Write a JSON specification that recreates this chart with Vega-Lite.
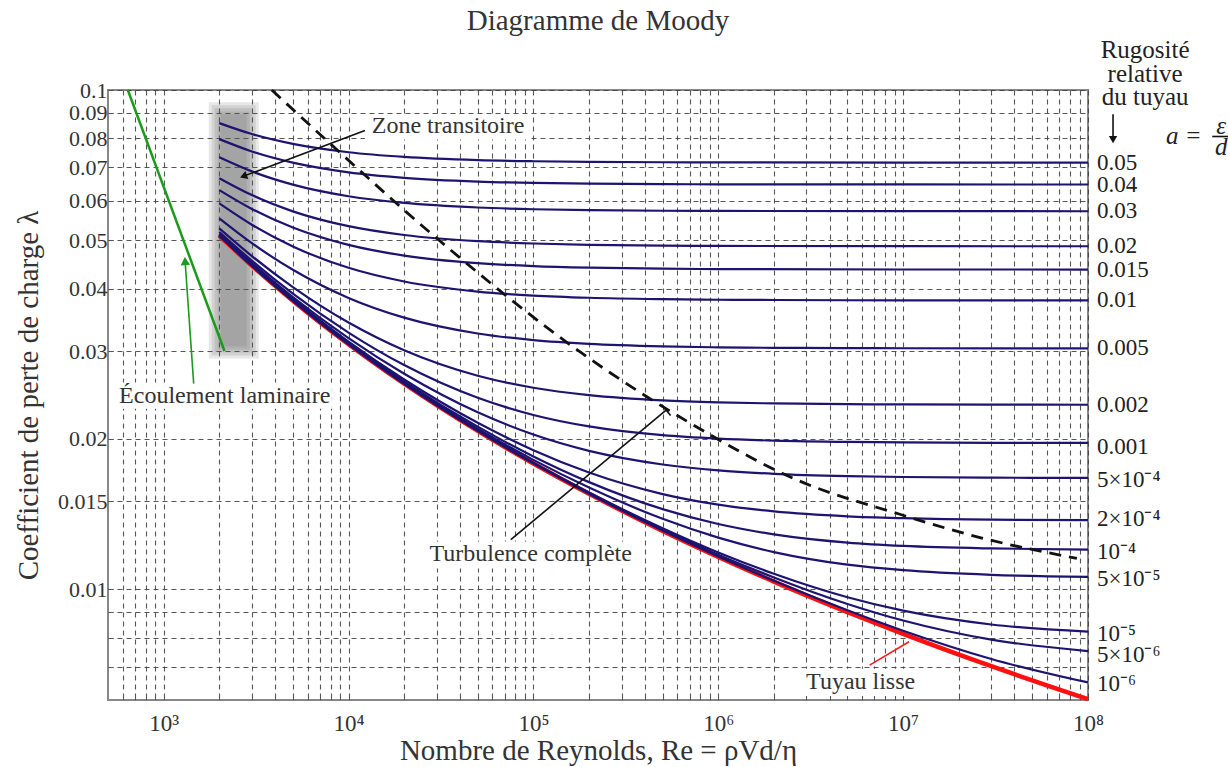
{
  "$schema": "https://vega.github.io/schema/vega-lite/v6.json",
  "autosize": "none",
  "width": 980,
  "height": 610,
  "padding": {"left": 108, "top": 90, "right": 140, "bottom": 67},
  "background": "white",
  "title": {"text": "Diagramme de Moody", "fontSize": 29, "font": "Liberation Serif", "fontWeight": "normal", "color": "#333", "offset": 2, "anchor": "middle"},
  "config": {
    "font": "Liberation Serif",
    "view": {"stroke": "#888", "strokeWidth": 2},
    "axis": {"labelFont": "Liberation Serif", "titleFont": "Liberation Serif", "labelColor": "#333", "titleColor": "#333", "titleFontWeight": "normal", "domain": false, "gridColor": "#444", "gridDash": [5, 4], "gridOpacity": 0.9, "gridWidth": 1.1, "tickColor": "#555"}
  },
  "datasets": {
    "curves": [
      {"a": "0.05", "Re": 2000, "f": 0.08584}, {"a": "0.05", "Re": 3000, "f": 0.08161}, {"a": "0.05", "Re": 5000, "f": 0.07799}, {"a": "0.05", "Re": 10000, "f": 0.07505}, {"a": "0.05", "Re": 20000, "f": 0.07344}, {"a": "0.05", "Re": 50000, "f": 0.07238}, {"a": "0.05", "Re": 100000, "f": 0.072}, {"a": "0.05", "Re": 200000, "f": 0.07179}, {"a": "0.05", "Re": 500000, "f": 0.07166}, {"a": "0.05", "Re": 1000000, "f": 0.07161}, {"a": "0.05", "Re": 10000000, "f": 0.07156}, {"a": "0.05", "Re": 100000000, "f": 0.07155},
      {"a": "0.04", "Re": 2000, "f": 0.07972}, {"a": "0.04", "Re": 3000, "f": 0.07532}, {"a": "0.04", "Re": 5000, "f": 0.07152}, {"a": "0.04", "Re": 10000, "f": 0.0684}, {"a": "0.04", "Re": 20000, "f": 0.06669}, {"a": "0.04", "Re": 50000, "f": 0.06556}, {"a": "0.04", "Re": 100000, "f": 0.06515}, {"a": "0.04", "Re": 200000, "f": 0.06493}, {"a": "0.04", "Re": 500000, "f": 0.06478}, {"a": "0.04", "Re": 1000000, "f": 0.06473}, {"a": "0.04", "Re": 10000000, "f": 0.06468}, {"a": "0.04", "Re": 100000000, "f": 0.06467},
      {"a": "0.03", "Re": 2000, "f": 0.07334}, {"a": "0.03", "Re": 3000, "f": 0.0687}, {"a": "0.03", "Re": 5000, "f": 0.06464}, {"a": "0.03", "Re": 10000, "f": 0.06127}, {"a": "0.03", "Re": 20000, "f": 0.0594}, {"a": "0.03", "Re": 50000, "f": 0.05816}, {"a": "0.03", "Re": 100000, "f": 0.0577}, {"a": "0.03", "Re": 200000, "f": 0.05746}, {"a": "0.03", "Re": 500000, "f": 0.0573}, {"a": "0.03", "Re": 1000000, "f": 0.05724}, {"a": "0.03", "Re": 10000000, "f": 0.05718}, {"a": "0.03", "Re": 100000000, "f": 0.05717},
      {"a": "0.02", "Re": 2000, "f": 0.06658}, {"a": "0.02", "Re": 3000, "f": 0.06159}, {"a": "0.02", "Re": 5000, "f": 0.05714}, {"a": "0.02", "Re": 10000, "f": 0.05336}, {"a": "0.02", "Re": 20000, "f": 0.05123}, {"a": "0.02", "Re": 50000, "f": 0.04979}, {"a": "0.02", "Re": 100000, "f": 0.04926}, {"a": "0.02", "Re": 200000, "f": 0.04897}, {"a": "0.02", "Re": 500000, "f": 0.04878}, {"a": "0.02", "Re": 1000000, "f": 0.04872}, {"a": "0.02", "Re": 10000000, "f": 0.04865}, {"a": "0.02", "Re": 100000000, "f": 0.04864},
      {"a": "0.015", "Re": 2000, "f": 0.06302}, {"a": "0.015", "Re": 3000, "f": 0.05778}, {"a": "0.015", "Re": 5000, "f": 0.05304}, {"a": "0.015", "Re": 10000, "f": 0.04895}, {"a": "0.015", "Re": 20000, "f": 0.04659}, {"a": "0.015", "Re": 50000, "f": 0.04499}, {"a": "0.015", "Re": 100000, "f": 0.04439}, {"a": "0.015", "Re": 200000, "f": 0.04407}, {"a": "0.015", "Re": 500000, "f": 0.04386}, {"a": "0.015", "Re": 1000000, "f": 0.04378}, {"a": "0.015", "Re": 10000000, "f": 0.0437}, {"a": "0.015", "Re": 100000000, "f": 0.04369},
      {"a": "0.01", "Re": 2000, "f": 0.05928}, {"a": "0.01", "Re": 3000, "f": 0.05373}, {"a": "0.01", "Re": 5000, "f": 0.0486}, {"a": "0.01", "Re": 10000, "f": 0.04404}, {"a": "0.01", "Re": 20000, "f": 0.04135}, {"a": "0.01", "Re": 50000, "f": 0.03946}, {"a": "0.01", "Re": 100000, "f": 0.03875}, {"a": "0.01", "Re": 200000, "f": 0.03836}, {"a": "0.01", "Re": 500000, "f": 0.03811}, {"a": "0.01", "Re": 1000000, "f": 0.03801}, {"a": "0.01", "Re": 2000000, "f": 0.03796}, {"a": "0.01", "Re": 10000000, "f": 0.03791}, {"a": "0.01", "Re": 100000000, "f": 0.0379},
      {"a": "0.005", "Re": 2000, "f": 0.05533}, {"a": "0.005", "Re": 3000, "f": 0.04935}, {"a": "0.005", "Re": 5000, "f": 0.04364}, {"a": "0.005", "Re": 10000, "f": 0.03833}, {"a": "0.005", "Re": 20000, "f": 0.035}, {"a": "0.005", "Re": 50000, "f": 0.03253}, {"a": "0.005", "Re": 100000, "f": 0.03156}, {"a": "0.005", "Re": 200000, "f": 0.03102}, {"a": "0.005", "Re": 500000, "f": 0.03066}, {"a": "0.005", "Re": 1000000, "f": 0.03052}, {"a": "0.005", "Re": 2000000, "f": 0.03045}, {"a": "0.005", "Re": 5000000, "f": 0.0304}, {"a": "0.005", "Re": 10000000, "f": 0.03039}, {"a": "0.005", "Re": 100000000, "f": 0.03037},
      {"a": "0.002", "Re": 2000, "f": 0.05283}, {"a": "0.002", "Re": 3000, "f": 0.0465}, {"a": "0.002", "Re": 5000, "f": 0.0403}, {"a": "0.002", "Re": 10000, "f": 0.03422}, {"a": "0.002", "Re": 20000, "f": 0.03011}, {"a": "0.002", "Re": 50000, "f": 0.02677}, {"a": "0.002", "Re": 100000, "f": 0.02533}, {"a": "0.002", "Re": 200000, "f": 0.02449}, {"a": "0.002", "Re": 500000, "f": 0.0239}, {"a": "0.002", "Re": 1000000, "f": 0.02368}, {"a": "0.002", "Re": 2000000, "f": 0.02356}, {"a": "0.002", "Re": 5000000, "f": 0.02348}, {"a": "0.002", "Re": 10000000, "f": 0.02345}, {"a": "0.002", "Re": 30000000, "f": 0.02343}, {"a": "0.002", "Re": 100000000, "f": 0.02342},
      {"a": "0.001", "Re": 2000, "f": 0.05197}, {"a": "0.001", "Re": 3000, "f": 0.04551}, {"a": "0.001", "Re": 5000, "f": 0.0391}, {"a": "0.001", "Re": 10000, "f": 0.03267}, {"a": "0.001", "Re": 20000, "f": 0.02812}, {"a": "0.001", "Re": 50000, "f": 0.02418}, {"a": "0.001", "Re": 100000, "f": 0.02234}, {"a": "0.001", "Re": 200000, "f": 0.02119}, {"a": "0.001", "Re": 500000, "f": 0.02035}, {"a": "0.001", "Re": 1000000, "f": 0.02003}, {"a": "0.001", "Re": 2000000, "f": 0.01985}, {"a": "0.001", "Re": 5000000, "f": 0.01973}, {"a": "0.001", "Re": 10000000, "f": 0.01969}, {"a": "0.001", "Re": 30000000, "f": 0.01965}, {"a": "0.001", "Re": 100000000, "f": 0.01964},
      {"a": "5e-4", "Re": 2000, "f": 0.05153}, {"a": "5e-4", "Re": 3000, "f": 0.045}, {"a": "5e-4", "Re": 5000, "f": 0.03848}, {"a": "5e-4", "Re": 10000, "f": 0.03184}, {"a": "5e-4", "Re": 20000, "f": 0.02702}, {"a": "5e-4", "Re": 50000, "f": 0.02262}, {"a": "5e-4", "Re": 100000, "f": 0.02041}, {"a": "5e-4", "Re": 200000, "f": 0.01893}, {"a": "5e-4", "Re": 500000, "f": 0.01778}, {"a": "5e-4", "Re": 1000000, "f": 0.0173}, {"a": "5e-4", "Re": 2000000, "f": 0.01703}, {"a": "5e-4", "Re": 5000000, "f": 0.01685}, {"a": "5e-4", "Re": 10000000, "f": 0.01678}, {"a": "5e-4", "Re": 30000000, "f": 0.01673}, {"a": "5e-4", "Re": 100000000, "f": 0.01671},
      {"a": "2e-4", "Re": 2000, "f": 0.05127}, {"a": "2e-4", "Re": 3000, "f": 0.0447}, {"a": "2e-4", "Re": 5000, "f": 0.0381}, {"a": "2e-4", "Re": 10000, "f": 0.03132}, {"a": "2e-4", "Re": 20000, "f": 0.02631}, {"a": "2e-4", "Re": 50000, "f": 0.02155}, {"a": "2e-4", "Re": 100000, "f": 0.01899}, {"a": "2e-4", "Re": 200000, "f": 0.01713}, {"a": "2e-4", "Re": 500000, "f": 0.01551}, {"a": "2e-4", "Re": 1000000, "f": 0.01477}, {"a": "2e-4", "Re": 2000000, "f": 0.01432}, {"a": "2e-4", "Re": 5000000, "f": 0.014}, {"a": "2e-4", "Re": 10000000, "f": 0.01388}, {"a": "2e-4", "Re": 30000000, "f": 0.01378}, {"a": "2e-4", "Re": 100000000, "f": 0.01375},
      {"a": "1e-4", "Re": 2000, "f": 0.05118}, {"a": "1e-4", "Re": 3000, "f": 0.04459}, {"a": "1e-4", "Re": 5000, "f": 0.03797}, {"a": "1e-4", "Re": 10000, "f": 0.03115}, {"a": "1e-4", "Re": 20000, "f": 0.02606}, {"a": "1e-4", "Re": 50000, "f": 0.02117}, {"a": "1e-4", "Re": 100000, "f": 0.01845}, {"a": "1e-4", "Re": 200000, "f": 0.01639}, {"a": "1e-4", "Re": 500000, "f": 0.01447}, {"a": "1e-4", "Re": 1000000, "f": 0.01351}, {"a": "1e-4", "Re": 2000000, "f": 0.01288}, {"a": "1e-4", "Re": 5000000, "f": 0.0124}, {"a": "1e-4", "Re": 10000000, "f": 0.01221}, {"a": "1e-4", "Re": 30000000, "f": 0.01207}, {"a": "1e-4", "Re": 100000000, "f": 0.01201},
      {"a": "5e-5", "Re": 2000, "f": 0.05114}, {"a": "5e-5", "Re": 3000, "f": 0.04454}, {"a": "5e-5", "Re": 5000, "f": 0.03791}, {"a": "5e-5", "Re": 10000, "f": 0.03106}, {"a": "5e-5", "Re": 20000, "f": 0.02594}, {"a": "5e-5", "Re": 50000, "f": 0.02097}, {"a": "5e-5", "Re": 100000, "f": 0.01816}, {"a": "5e-5", "Re": 200000, "f": 0.01598}, {"a": "5e-5", "Re": 500000, "f": 0.01384}, {"a": "5e-5", "Re": 1000000, "f": 0.01269}, {"a": "5e-5", "Re": 2000000, "f": 0.01187}, {"a": "5e-5", "Re": 5000000, "f": 0.0112}, {"a": "5e-5", "Re": 10000000, "f": 0.01092}, {"a": "5e-5", "Re": 30000000, "f": 0.01069}, {"a": "5e-5", "Re": 100000000, "f": 0.01059},
      {"a": "1e-5", "Re": 2000, "f": 0.0511}, {"a": "1e-5", "Re": 3000, "f": 0.0445}, {"a": "1e-5", "Re": 5000, "f": 0.03786}, {"a": "1e-5", "Re": 10000, "f": 0.03099}, {"a": "1e-5", "Re": 20000, "f": 0.02584}, {"a": "1e-5", "Re": 50000, "f": 0.0208}, {"a": "1e-5", "Re": 100000, "f": 0.01792}, {"a": "1e-5", "Re": 200000, "f": 0.01562}, {"a": "1e-5", "Re": 500000, "f": 0.01325}, {"a": "1e-5", "Re": 1000000, "f": 0.01185}, {"a": "1e-5", "Re": 2000000, "f": 0.01074}, {"a": "1e-5", "Re": 5000000, "f": 0.009638}, {"a": "1e-5", "Re": 10000000, "f": 0.009059}, {"a": "1e-5", "Re": 30000000, "f": 0.0085}, {"a": "1e-5", "Re": 100000000, "f": 0.008224},
      {"a": "5e-6", "Re": 2000, "f": 0.0511}, {"a": "5e-6", "Re": 3000, "f": 0.04449}, {"a": "5e-6", "Re": 5000, "f": 0.03785}, {"a": "5e-6", "Re": 10000, "f": 0.03098}, {"a": "5e-6", "Re": 20000, "f": 0.02583}, {"a": "5e-6", "Re": 50000, "f": 0.02078}, {"a": "5e-6", "Re": 100000, "f": 0.01789}, {"a": "5e-6", "Re": 200000, "f": 0.01558}, {"a": "5e-6", "Re": 500000, "f": 0.01317}, {"a": "5e-6", "Re": 1000000, "f": 0.01173}, {"a": "5e-6", "Re": 2000000, "f": 0.01056}, {"a": "5e-6", "Re": 5000000, "f": 0.009344}, {"a": "5e-6", "Re": 10000000, "f": 0.008657}, {"a": "5e-6", "Re": 30000000, "f": 0.007927}, {"a": "5e-6", "Re": 100000000, "f": 0.007519},
      {"a": "1e-6", "Re": 2000, "f": 0.0511}, {"a": "1e-6", "Re": 3000, "f": 0.04449}, {"a": "1e-6", "Re": 5000, "f": 0.03785}, {"a": "1e-6", "Re": 10000, "f": 0.03097}, {"a": "1e-6", "Re": 20000, "f": 0.02582}, {"a": "1e-6", "Re": 50000, "f": 0.02077}, {"a": "1e-6", "Re": 100000, "f": 0.01787}, {"a": "1e-6", "Re": 200000, "f": 0.01554}, {"a": "1e-6", "Re": 500000, "f": 0.01311}, {"a": "1e-6", "Re": 1000000, "f": 0.01163}, {"a": "1e-6", "Re": 2000000, "f": 0.0104}, {"a": "1e-6", "Re": 5000000, "f": 0.009075}, {"a": "1e-6", "Re": 10000000, "f": 0.008258}, {"a": "1e-6", "Re": 30000000, "f": 0.007249}, {"a": "1e-6", "Re": 100000000, "f": 0.006506}
    ],
    "smooth": [
      {"Re": 2000, "f": 0.05109}, {"Re": 3000, "f": 0.04449}, {"Re": 5000, "f": 0.03785}, {"Re": 10000, "f": 0.03097}, {"Re": 20000, "f": 0.02581}, {"Re": 50000, "f": 0.02076}, {"Re": 100000, "f": 0.01786}, {"Re": 200000, "f": 0.01553}, {"Re": 500000, "f": 0.01309}, {"Re": 1000000, "f": 0.01161}, {"Re": 2000000, "f": 0.01036}, {"Re": 5000000, "f": 0.009001}, {"Re": 10000000, "f": 0.008142}, {"Re": 30000000, "f": 0.007013}, {"Re": 100000000, "f": 0.006026}
    ],
    "dashed": [
      {"Re": 3846, "f": 0.1}, {"Re": 7834, "f": 0.0785}, {"Re": 30900, "f": 0.05}, {"Re": 183700, "f": 0.02967}, {"Re": 698000, "f": 0.02156}, {"Re": 2754000, "f": 0.01647}, {"Re": 9590000, "f": 0.01413}, {"Re": 27000000, "f": 0.01265}, {"Re": 87100000, "f": 0.01153}
    ],
    "band": [
      {"Re": 1753, "Re2": 3271, "f": 0.02899, "f2": 0.09446},
      {"Re": 1820, "Re2": 3151, "f": 0.02939, "f2": 0.09316},
      {"Re": 1889, "Re2": 3035, "f": 0.0298, "f2": 0.09188},
      {"Re": 1961, "Re2": 2923, "f": 0.03022, "f2": 0.09061},
      {"Re": 2036, "Re2": 2816, "f": 0.03064, "f2": 0.08937}
    ],
    "boxes": [
      {"Re": 12270, "Re2": 97260, "f": 0.07959, "f2": 0.08937},
      {"Re": 570.5, "Re2": 8130, "f": 0.02299, "f2": 0.02594},
      {"Re": 26590, "Re2": 356000, "f": 0.01101, "f2": 0.01247},
      {"Re": 2930000, "Re2": 11900000, "f": 0.006112, "f2": 0.006927}
    ],
    "arrows": [
      {"kind": "noir", "Re": 12270, "f": 0.08297, "Re2": 2650, "f2": 0.067},
      {"kind": "vert", "Re": 1454, "f": 0.02582, "Re2": 1306, "f2": 0.04544},
      {"kind": "noir", "Re": 75500, "f": 0.01257, "Re2": 522200, "f2": 0.02285},
      {"kind": "noir", "Re": 493600, "f": 0.02343, "Re2": 552300, "f2": 0.02229},
      {"kind": "rouge", "Re": 6590000, "f": 0.007046, "Re2": 10760000, "f2": 0.007847},
      {"kind": "noir", "Re": 136600000, "f": 0.0894, "Re2": 136600000, "f2": 0.08},
      {"kind": "noir", "Re": 470000000, "f": 0.0807, "Re2": 588000000, "f2": 0.0807}
    ],
    "notes": [
      {"Re": 34560, "f": 0.08451, "label": "Zone transitoire"},
      {"Re": 2140, "f": 0.02442, "label": "Écoulement laminaire"},
      {"Re": 96700, "f": 0.01174, "label": "Turbulence complète"},
      {"Re": 5890000, "f": 0.00652, "label": "Tuyau lisse"}
    ],
    "rlabels": [
      {"Re": 100000000, "f": 0.07155, "label": "0.05"},
      {"Re": 100000000, "f": 0.06467, "label": "0.04"},
      {"Re": 100000000, "f": 0.05717, "label": "0.03"},
      {"Re": 100000000, "f": 0.04864, "label": "0.02"},
      {"Re": 100000000, "f": 0.04369, "label": "0.015"},
      {"Re": 100000000, "f": 0.0379, "label": "0.01"},
      {"Re": 100000000, "f": 0.03037, "label": "0.005"},
      {"Re": 100000000, "f": 0.02342, "label": "0.002"},
      {"Re": 100000000, "f": 0.0193, "label": "0.001"},
      {"Re": 100000000, "f": 0.01655, "label": "5×10⁻⁴"},
      {"Re": 100000000, "f": 0.0138, "label": "2×10⁻⁴"},
      {"Re": 100000000, "f": 0.0119, "label": "10⁻⁴"},
      {"Re": 100000000, "f": 0.0105, "label": "5×10⁻⁵"},
      {"Re": 100000000, "f": 0.008144, "label": "10⁻⁵"},
      {"Re": 100000000, "f": 0.00739, "label": "5×10⁻⁶"},
      {"Re": 100000000, "f": 0.00646, "label": "10⁻⁶"}
    ],
    "header": [
      {"Re": 203600000, "f": 0.1202, "label": "Rugosité"},
      {"Re": 203600000, "f": 0.1075, "label": "relative"},
      {"Re": 203600000, "f": 0.09667, "label": "du tuyau"}
    ],
    "math": [
      {"Re": 330000000, "f": 0.0807, "label": "a ="},
      {"Re": 525000000, "f": 0.0848, "label": "ε"},
      {"Re": 525000000, "f": 0.0768, "label": "d"}
    ]
  },
  "encoding": {
    "x": {
      "field": "Re", "type": "quantitative",
      "scale": {"type": "log", "domain": [500, 100000000], "nice": false},
      "axis": {
        "title": "Nombre de Reynolds, Re = ρVd/η",
        "values": [600, 700, 800, 900, 1000, 2000, 3000, 4000, 5000, 6000, 7000, 8000, 9000, 10000, 20000, 30000, 40000, 50000, 60000, 70000, 80000, 90000, 100000, 200000, 300000, 400000, 500000, 600000, 700000, 800000, 900000, 1000000, 2000000, 3000000, 4000000, 5000000, 6000000, 7000000, 8000000, 9000000, 10000000, 20000000, 30000000, 40000000, 50000000, 60000000, 70000000, 80000000, 90000000, 100000000],
        "labelExpr": "indexof([1000,10000,100000,1000000,10000000,100000000], datum.value) >= 0 ? '10' + ['³','⁴','⁵','⁶','⁷','⁸'][indexof([1000,10000,100000,1000000,10000000,100000000], datum.value)] : ''",
        "labelFontSize": 23, "titleFontSize": 29, "labelPadding": 17, "titlePadding": 1,
        "tickSize": -5, "labelOverlap": false, "labelFlush": false, "grid": true
      }
    },
    "y": {
      "field": "f", "type": "quantitative",
      "scale": {"type": "log", "domain": [0.006, 0.1], "nice": false},
      "axis": {
        "title": "Coefficient de perte de charge λ",
        "values": [0.007, 0.008, 0.009, 0.01, 0.015, 0.02, 0.03, 0.04, 0.05, 0.06, 0.07, 0.08, 0.09, 0.1],
        "labelExpr": "datum.value < 0.0095 ? '' : format(datum.value, '~g')",
        "labelFontSize": 22, "titleFontSize": 29, "labelPadding": 6, "titlePadding": 14,
        "tickSize": -5, "labelOverlap": false, "grid": true
      }
    }
  },
  "layer": [
    {"data": {"name": "band"}, "mark": {"type": "rect", "color": "#555", "opacity": 0.14}, "encoding": {"x2": {"field": "Re2"}, "y2": {"field": "f2"}}},
    {"data": {"name": "boxes"}, "mark": {"type": "rect", "color": "white"}, "encoding": {"x2": {"field": "Re2"}, "y2": {"field": "f2"}}},
    {"data": {"values": [{"Re": 640, "f": 0.1}, {"Re": 2133, "f": 0.03}]}, "mark": {"type": "line", "color": "#1b9a1b", "strokeWidth": 2.5}, "encoding": {}},
    {"data": {"name": "smooth"}, "mark": {"type": "line", "color": "#ff1010", "strokeWidth": 4.5, "interpolate": "monotone"}, "encoding": {}},
    {"data": {"name": "curves"}, "mark": {"type": "line", "color": "#1d1470", "strokeWidth": 2.2, "interpolate": "monotone"}, "encoding": {"detail": {"field": "a", "type": "nominal"}}},
    {"data": {"name": "dashed"}, "mark": {"type": "line", "color": "#111", "strokeWidth": 2.8, "strokeDash": [12, 8], "interpolate": "monotone"}, "encoding": {}},
    {"data": {"name": "arrows"}, "mark": {"type": "rule", "strokeWidth": 1.6}, "encoding": {"x2": {"field": "Re2"}, "y2": {"field": "f2"}, "color": {"field": "kind", "type": "nominal", "scale": {"domain": ["noir", "vert", "rouge"], "range": ["#111111", "#1b9a1b", "#ff1a1a"]}, "legend": null}}},
    {"data": {"values": [{"Re": 2702, "f": 0.06718}]}, "mark": {"type": "point", "shape": "triangle-up", "filled": true, "color": "#111", "size": 70, "angle": 249.4, "opacity": 1}, "encoding": {}},
    {"data": {"values": [{"Re": 1306, "f": 0.04544}]}, "mark": {"type": "point", "shape": "triangle-up", "filled": true, "color": "#1b9a1b", "size": 90, "angle": 356, "opacity": 1}, "encoding": {}},
    {"data": {"values": [{"Re": 136600000, "f": 0.0795}]}, "mark": {"type": "point", "shape": "triangle-down", "filled": true, "color": "#111", "size": 70, "opacity": 1}, "encoding": {}},
    {"data": {"name": "notes"}, "mark": {"type": "text", "fontSize": 24, "color": "#333", "align": "center", "baseline": "middle"}, "encoding": {"text": {"field": "label"}}},
    {"data": {"name": "rlabels"}, "mark": {"type": "text", "fontSize": 23, "color": "#222", "align": "left", "baseline": "middle", "dx": 9}, "encoding": {"text": {"field": "label"}}},
    {"data": {"name": "header"}, "mark": {"type": "text", "fontSize": 25, "color": "#222", "align": "center", "baseline": "middle"}, "encoding": {"text": {"field": "label"}}},
    {"data": {"name": "math"}, "mark": {"type": "text", "fontSize": 25, "fontStyle": "italic", "color": "#222", "align": "center", "baseline": "middle"}, "encoding": {"text": {"field": "label"}}}
  ]
}
